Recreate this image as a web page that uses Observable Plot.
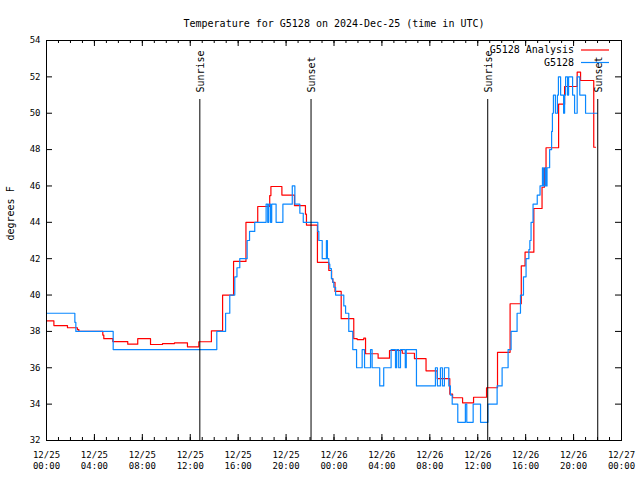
<!DOCTYPE html>
<html><head><meta charset="utf-8">
<script src="https://cdn.jsdelivr.net/npm/d3@7"></script>
<script src="https://cdn.jsdelivr.net/npm/@observablehq/plot@0.6"></script>
<style>body{margin:0;background:#fff} svg{display:block}</style>
</head><body><div id="chart"></div>
<script>
const startUTC = Date.UTC(2024, 11, 25);
const title = "Temperature for G5128 on 2024-Dec-25 (time in UTC)";
const yLabel = "degrees F";
const seriesNames = ["G5128 Analysis", "G5128"];
const seriesColors = ["#ff0000", "#0a88ff"];

// minutes since 2024-12-25 00:00 UTC
const analysisMinutes = [0,37,105,155,162,282,287,332,407,457,521,581,641,706,763,826,882,937,999,1058,1118,1124,1179,1242,1297,1302,1357,1414,1428,1434,1445,1476,1539,1556,1589,1598,1661,1718,1782,1843,1901,1957,2020,2034,2084,2139,2204,2259,2322,2378,2397,2441,2482,2494,2502,2565,2595,2658,2675,2741,2750];
const analysisTemps = [38.58,38.32,38.2,38.1,38.0,37.8,37.6,37.44,37.3,37.6,37.28,37.33,37.37,37.15,37.43,38.03,40.0,41.85,44.0,44.87,45.47,45.97,45.5,44.92,44.45,43.85,41.8,41.35,40.9,40.7,40.2,38.7,37.6,37.55,37.63,36.77,36.53,36.95,36.8,36.5,35.83,35.4,34.55,34.35,34.07,34.38,34.9,36.85,39.52,41.6,42.36,44.76,45.93,46.98,48.1,50.5,51.47,52.26,51.8,48.13,48.13];

const obsMinutes = [0,142,147,334,853,897,918,943,954,968,1005,1017,1043,1100,1108,1113,1122,1128,1150,1184,1231,1244,1269,1286,1359,1364,1381,1402,1407,1414,1419,1427,1434,1439,1448,1489,1498,1514,1534,1553,1581,1593,1623,1631,1669,1689,1726,1748,1754,1764,1773,1797,1802,1853,1948,1958,1973,1983,1993,2015,2023,2032,2060,2098,2105,2137,2174,2211,2257,2282,2312,2327,2357,2374,2389,2402,2416,2421,2427,2437,2458,2472,2484,2489,2497,2502,2507,2520,2530,2534,2539,2549,2559,2564,2575,2590,2595,2600,2610,2615,2635,2645,2658,2671,2700,2758];
const obsTemps = [39,38.5,38,37,38,39,40,41,41.5,42,43,43.5,44,45,44,45,44,45,44,45,46,45,44.5,44,43.5,43,42,43,42,41.7,41.45,40.9,40.7,40.43,40,39.4,39,38,37,36,37,36,37,36,35,36,37,36,37,36,37,36,37,35,36,35,36,35,36,35,34.5,34,33,34,33,34,33,34,35,36,37,38,39,40,41,42,42.5,43,44,45,45.5,46,47,46,47,46,47,48,49,50,51,50,51,52,51,50,51,52,51,52,51,50,52,51,50,50];

const sunMinutes = [768, 1325, 2210, 2761];
const sunLabels = ["Sunrise", "Sunset", "Sunrise", "Sunset"];

const yTicks = [32,34,36,38,40,42,44,46,48,50,52,54];
const xMajorHours = [0,4,8,12,16,20,24,28,32,36,40,44,48];
const xMinorHours = d3.range(0, 49, 1);

const toDate = m => new Date(startUTC + m * 60000);
const analysis = analysisMinutes.map((m, i) => ({date: toDate(m), temp: analysisTemps[i]}));
const obs = obsMinutes.map((m, i) => ({date: toDate(m), temp: obsTemps[i]}));
const sun = sunMinutes.map((m, i) => ({date: toDate(m), label: sunLabels[i]}));
const xMajor = xMajorHours.map(h => toDate(h * 60));
const xMinor = xMinorHours.map(h => toDate(h * 60));

const W = 640, H = 480, mt = 40, mb = 40, ml = 46, mr = 19;
const frameH = H - mt - mb, frameW = W - ml - mr;
const pad2 = n => String(n).padStart(2, "0");
const fmt = d => `${pad2(d.getUTCMonth() + 1)}/${pad2(d.getUTCDate())}\n${pad2(d.getUTCHours())}:${pad2(d.getUTCMinutes())}`;
const FONT = "DejaVu Sans Mono";

function legend(index, scales, values, dims) {
  const g = d3.create("svg:g").attr("font-family", FONT).attr("font-size", 10);
  const right = dims.width - dims.marginRight;
  seriesNames.forEach((name, i) => {
    const y = dims.marginTop + 10 + i * 12.5;
    g.append("text").attr("x", right - 47).attr("y", y).attr("dy", "0.32em")
      .attr("text-anchor", "end").attr("fill", "black").text(name);
    g.append("line").attr("x1", right - 40).attr("x2", right - 12)
      .attr("y1", y).attr("y2", y).attr("stroke", seriesColors[i]).attr("stroke-width", 1.2);
  });
  return g.node();
}

const chart = Plot.plot({
  width: W, height: H,
  marginTop: mt, marginBottom: mb, marginLeft: ml, marginRight: mr,
  style: {fontFamily: FONT, fontSize: "10px", background: "white", color: "black"},
  x: {type: "utc", domain: [toDate(0), toDate(48 * 60)], axis: null},
  y: {domain: [32, 54], axis: null},
  marks: [
    Plot.line(analysis, {x: "date", y: "temp", curve: "step-after", stroke: seriesColors[0], strokeWidth: 1.2}),
    Plot.line(obs, {x: "date", y: "temp", curve: "step-after", stroke: seriesColors[1], strokeWidth: 1.2}),
    Plot.ruleX(sun, {x: "date", insetTop: 59, stroke: "black", strokeWidth: 1}),
    Plot.text(sun, {x: "date", text: "label", frameAnchor: "top", dx: -3, dy: 52, rotate: -90, textAnchor: "start", fontSize: 10, fill: "black"}),
    Plot.ruleX(xMinor, {x: d => d, insetTop: frameH - 3, stroke: "black"}),
    Plot.ruleX(xMinor, {x: d => d, insetBottom: frameH - 3, stroke: "black"}),
    Plot.ruleX(xMajor, {x: d => d, insetTop: frameH - 6, stroke: "black"}),
    Plot.ruleX(xMajor, {x: d => d, insetBottom: frameH - 6, stroke: "black"}),
    Plot.ruleY(yTicks, {y: d => d, insetRight: frameW - 6, stroke: "black"}),
    Plot.ruleY(yTicks, {y: d => d, insetLeft: frameW - 6, stroke: "black"}),
    Plot.frame({stroke: "black", strokeWidth: 1}),
    Plot.axisX({ticks: xMajor, tickSize: 0, tickPadding: 10, tickFormat: fmt, fontSize: 9, lineHeight: 1.17, label: null}),
    Plot.axisY({ticks: yTicks, tickSize: 0, tickPadding: 6, fontSize: 9, label: null}),
    Plot.text([title], {frameAnchor: "top", dy: -21, fontSize: 10, fill: "black"}),
    Plot.text([yLabel], {frameAnchor: "left", dx: -36, rotate: -90, fontSize: 10, fill: "black"}),
    legend
  ]
});
document.getElementById("chart").appendChild(chart);
</script>
</body></html>
